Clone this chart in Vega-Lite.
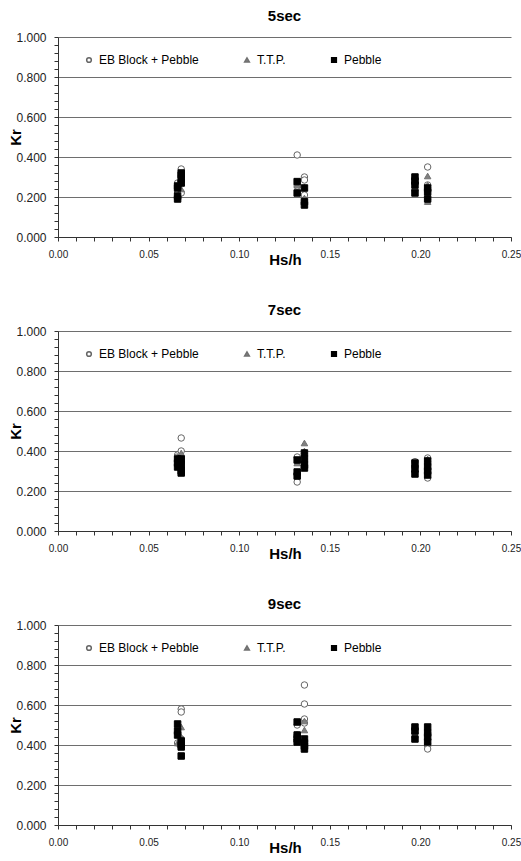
{
  "$schema": "https://vega.github.io/schema/vega-lite/v6.json",
  "background": "white",
  "padding": {"left": 8, "top": 9, "right": 8, "bottom": 5},
  "config": {
    "font": "Liberation Sans",
    "view": {"stroke": null},
    "title": {"fontSize": 15, "fontWeight": "bold", "color": "black", "anchor": "middle", "offset": 7},
    "axis": {"labelFont": "Liberation Sans", "titleFont": "Liberation Sans", "domainColor": "#333333", "tickColor": "#333333", "labelColor": "#222222", "titleColor": "black"},
    "legend": {"orient": "none", "legendX": 25, "legendY": 17, "direction": "horizontal", "columns": 3, "columnPadding": 42, "labelFontSize": 12, "labelColor": "black", "symbolSize": 22, "labelOffset": 4, "labelFont": "Liberation Sans"}
  },
  "datasets": {
    "kr": [
      {"p": "5sec", "s": "EB Block + Pebble", "x": 0.066, "kr": 0.27},
      {"p": "5sec", "s": "EB Block + Pebble", "x": 0.066, "kr": 0.22},
      {"p": "5sec", "s": "EB Block + Pebble", "x": 0.068, "kr": 0.34},
      {"p": "5sec", "s": "EB Block + Pebble", "x": 0.068, "kr": 0.22},
      {"p": "5sec", "s": "EB Block + Pebble", "x": 0.068, "kr": 0.28},
      {"p": "5sec", "s": "EB Block + Pebble", "x": 0.132, "kr": 0.41},
      {"p": "5sec", "s": "EB Block + Pebble", "x": 0.132, "kr": 0.255},
      {"p": "5sec", "s": "EB Block + Pebble", "x": 0.136, "kr": 0.30},
      {"p": "5sec", "s": "EB Block + Pebble", "x": 0.136, "kr": 0.285},
      {"p": "5sec", "s": "EB Block + Pebble", "x": 0.136, "kr": 0.21},
      {"p": "5sec", "s": "EB Block + Pebble", "x": 0.197, "kr": 0.235},
      {"p": "5sec", "s": "EB Block + Pebble", "x": 0.197, "kr": 0.27},
      {"p": "5sec", "s": "EB Block + Pebble", "x": 0.204, "kr": 0.35},
      {"p": "5sec", "s": "EB Block + Pebble", "x": 0.204, "kr": 0.26},
      {"p": "5sec", "s": "EB Block + Pebble", "x": 0.204, "kr": 0.23},
      {"p": "5sec", "s": "T.T.P.", "x": 0.066, "kr": 0.20},
      {"p": "5sec", "s": "T.T.P.", "x": 0.066, "kr": 0.25},
      {"p": "5sec", "s": "T.T.P.", "x": 0.068, "kr": 0.27},
      {"p": "5sec", "s": "T.T.P.", "x": 0.068, "kr": 0.24},
      {"p": "5sec", "s": "T.T.P.", "x": 0.132, "kr": 0.26},
      {"p": "5sec", "s": "T.T.P.", "x": 0.136, "kr": 0.195},
      {"p": "5sec", "s": "T.T.P.", "x": 0.136, "kr": 0.25},
      {"p": "5sec", "s": "T.T.P.", "x": 0.197, "kr": 0.25},
      {"p": "5sec", "s": "T.T.P.", "x": 0.204, "kr": 0.305},
      {"p": "5sec", "s": "T.T.P.", "x": 0.204, "kr": 0.26},
      {"p": "5sec", "s": "T.T.P.", "x": 0.204, "kr": 0.20},
      {"p": "5sec", "s": "T.T.P.", "x": 0.204, "kr": 0.177},
      {"p": "5sec", "s": "Pebble", "x": 0.066, "kr": 0.19},
      {"p": "5sec", "s": "Pebble", "x": 0.066, "kr": 0.205},
      {"p": "5sec", "s": "Pebble", "x": 0.066, "kr": 0.245},
      {"p": "5sec", "s": "Pebble", "x": 0.066, "kr": 0.255},
      {"p": "5sec", "s": "Pebble", "x": 0.068, "kr": 0.29},
      {"p": "5sec", "s": "Pebble", "x": 0.068, "kr": 0.31},
      {"p": "5sec", "s": "Pebble", "x": 0.068, "kr": 0.32},
      {"p": "5sec", "s": "Pebble", "x": 0.068, "kr": 0.27},
      {"p": "5sec", "s": "Pebble", "x": 0.132, "kr": 0.277},
      {"p": "5sec", "s": "Pebble", "x": 0.132, "kr": 0.22},
      {"p": "5sec", "s": "Pebble", "x": 0.136, "kr": 0.245},
      {"p": "5sec", "s": "Pebble", "x": 0.136, "kr": 0.177},
      {"p": "5sec", "s": "Pebble", "x": 0.136, "kr": 0.16},
      {"p": "5sec", "s": "Pebble", "x": 0.197, "kr": 0.30},
      {"p": "5sec", "s": "Pebble", "x": 0.197, "kr": 0.28},
      {"p": "5sec", "s": "Pebble", "x": 0.197, "kr": 0.26},
      {"p": "5sec", "s": "Pebble", "x": 0.197, "kr": 0.22},
      {"p": "5sec", "s": "Pebble", "x": 0.204, "kr": 0.245},
      {"p": "5sec", "s": "Pebble", "x": 0.204, "kr": 0.225},
      {"p": "5sec", "s": "Pebble", "x": 0.204, "kr": 0.19},

      {"p": "7sec", "s": "EB Block + Pebble", "x": 0.066, "kr": 0.38},
      {"p": "7sec", "s": "EB Block + Pebble", "x": 0.066, "kr": 0.37},
      {"p": "7sec", "s": "EB Block + Pebble", "x": 0.068, "kr": 0.465},
      {"p": "7sec", "s": "EB Block + Pebble", "x": 0.068, "kr": 0.40},
      {"p": "7sec", "s": "EB Block + Pebble", "x": 0.068, "kr": 0.36},
      {"p": "7sec", "s": "EB Block + Pebble", "x": 0.132, "kr": 0.245},
      {"p": "7sec", "s": "EB Block + Pebble", "x": 0.132, "kr": 0.37},
      {"p": "7sec", "s": "EB Block + Pebble", "x": 0.136, "kr": 0.36},
      {"p": "7sec", "s": "EB Block + Pebble", "x": 0.136, "kr": 0.34},
      {"p": "7sec", "s": "EB Block + Pebble", "x": 0.197, "kr": 0.347},
      {"p": "7sec", "s": "EB Block + Pebble", "x": 0.197, "kr": 0.32},
      {"p": "7sec", "s": "EB Block + Pebble", "x": 0.204, "kr": 0.365},
      {"p": "7sec", "s": "EB Block + Pebble", "x": 0.204, "kr": 0.265},
      {"p": "7sec", "s": "EB Block + Pebble", "x": 0.204, "kr": 0.33},
      {"p": "7sec", "s": "T.T.P.", "x": 0.066, "kr": 0.37},
      {"p": "7sec", "s": "T.T.P.", "x": 0.068, "kr": 0.39},
      {"p": "7sec", "s": "T.T.P.", "x": 0.068, "kr": 0.35},
      {"p": "7sec", "s": "T.T.P.", "x": 0.132, "kr": 0.34},
      {"p": "7sec", "s": "T.T.P.", "x": 0.136, "kr": 0.44},
      {"p": "7sec", "s": "T.T.P.", "x": 0.136, "kr": 0.40},
      {"p": "7sec", "s": "T.T.P.", "x": 0.197, "kr": 0.33},
      {"p": "7sec", "s": "T.T.P.", "x": 0.204, "kr": 0.36},
      {"p": "7sec", "s": "T.T.P.", "x": 0.204, "kr": 0.31},
      {"p": "7sec", "s": "Pebble", "x": 0.066, "kr": 0.36},
      {"p": "7sec", "s": "Pebble", "x": 0.066, "kr": 0.34},
      {"p": "7sec", "s": "Pebble", "x": 0.066, "kr": 0.32},
      {"p": "7sec", "s": "Pebble", "x": 0.068, "kr": 0.36},
      {"p": "7sec", "s": "Pebble", "x": 0.068, "kr": 0.33},
      {"p": "7sec", "s": "Pebble", "x": 0.068, "kr": 0.30},
      {"p": "7sec", "s": "Pebble", "x": 0.068, "kr": 0.29},
      {"p": "7sec", "s": "Pebble", "x": 0.132, "kr": 0.355},
      {"p": "7sec", "s": "Pebble", "x": 0.132, "kr": 0.295},
      {"p": "7sec", "s": "Pebble", "x": 0.132, "kr": 0.275},
      {"p": "7sec", "s": "Pebble", "x": 0.136, "kr": 0.39},
      {"p": "7sec", "s": "Pebble", "x": 0.136, "kr": 0.36},
      {"p": "7sec", "s": "Pebble", "x": 0.136, "kr": 0.33},
      {"p": "7sec", "s": "Pebble", "x": 0.136, "kr": 0.315},
      {"p": "7sec", "s": "Pebble", "x": 0.197, "kr": 0.34},
      {"p": "7sec", "s": "Pebble", "x": 0.197, "kr": 0.31},
      {"p": "7sec", "s": "Pebble", "x": 0.197, "kr": 0.285},
      {"p": "7sec", "s": "Pebble", "x": 0.204, "kr": 0.35},
      {"p": "7sec", "s": "Pebble", "x": 0.204, "kr": 0.32},
      {"p": "7sec", "s": "Pebble", "x": 0.204, "kr": 0.30},
      {"p": "7sec", "s": "Pebble", "x": 0.204, "kr": 0.28},

      {"p": "9sec", "s": "EB Block + Pebble", "x": 0.068, "kr": 0.58},
      {"p": "9sec", "s": "EB Block + Pebble", "x": 0.068, "kr": 0.565},
      {"p": "9sec", "s": "EB Block + Pebble", "x": 0.066, "kr": 0.41},
      {"p": "9sec", "s": "EB Block + Pebble", "x": 0.068, "kr": 0.43},
      {"p": "9sec", "s": "EB Block + Pebble", "x": 0.132, "kr": 0.50},
      {"p": "9sec", "s": "EB Block + Pebble", "x": 0.132, "kr": 0.45},
      {"p": "9sec", "s": "EB Block + Pebble", "x": 0.136, "kr": 0.70},
      {"p": "9sec", "s": "EB Block + Pebble", "x": 0.136, "kr": 0.605},
      {"p": "9sec", "s": "EB Block + Pebble", "x": 0.136, "kr": 0.53},
      {"p": "9sec", "s": "EB Block + Pebble", "x": 0.136, "kr": 0.51},
      {"p": "9sec", "s": "EB Block + Pebble", "x": 0.197, "kr": 0.46},
      {"p": "9sec", "s": "EB Block + Pebble", "x": 0.204, "kr": 0.46},
      {"p": "9sec", "s": "EB Block + Pebble", "x": 0.204, "kr": 0.395},
      {"p": "9sec", "s": "EB Block + Pebble", "x": 0.204, "kr": 0.38},
      {"p": "9sec", "s": "T.T.P.", "x": 0.066, "kr": 0.41},
      {"p": "9sec", "s": "T.T.P.", "x": 0.068, "kr": 0.49},
      {"p": "9sec", "s": "T.T.P.", "x": 0.068, "kr": 0.44},
      {"p": "9sec", "s": "T.T.P.", "x": 0.132, "kr": 0.44},
      {"p": "9sec", "s": "T.T.P.", "x": 0.136, "kr": 0.52},
      {"p": "9sec", "s": "T.T.P.", "x": 0.136, "kr": 0.475},
      {"p": "9sec", "s": "T.T.P.", "x": 0.197, "kr": 0.45},
      {"p": "9sec", "s": "T.T.P.", "x": 0.204, "kr": 0.42},
      {"p": "9sec", "s": "Pebble", "x": 0.066, "kr": 0.505},
      {"p": "9sec", "s": "Pebble", "x": 0.066, "kr": 0.47},
      {"p": "9sec", "s": "Pebble", "x": 0.066, "kr": 0.45},
      {"p": "9sec", "s": "Pebble", "x": 0.068, "kr": 0.42},
      {"p": "9sec", "s": "Pebble", "x": 0.068, "kr": 0.40},
      {"p": "9sec", "s": "Pebble", "x": 0.068, "kr": 0.39},
      {"p": "9sec", "s": "Pebble", "x": 0.068, "kr": 0.345},
      {"p": "9sec", "s": "Pebble", "x": 0.132, "kr": 0.515},
      {"p": "9sec", "s": "Pebble", "x": 0.132, "kr": 0.45},
      {"p": "9sec", "s": "Pebble", "x": 0.132, "kr": 0.43},
      {"p": "9sec", "s": "Pebble", "x": 0.132, "kr": 0.415},
      {"p": "9sec", "s": "Pebble", "x": 0.136, "kr": 0.43},
      {"p": "9sec", "s": "Pebble", "x": 0.136, "kr": 0.41},
      {"p": "9sec", "s": "Pebble", "x": 0.136, "kr": 0.395},
      {"p": "9sec", "s": "Pebble", "x": 0.136, "kr": 0.38},
      {"p": "9sec", "s": "Pebble", "x": 0.197, "kr": 0.49},
      {"p": "9sec", "s": "Pebble", "x": 0.197, "kr": 0.47},
      {"p": "9sec", "s": "Pebble", "x": 0.197, "kr": 0.43},
      {"p": "9sec", "s": "Pebble", "x": 0.204, "kr": 0.49},
      {"p": "9sec", "s": "Pebble", "x": 0.204, "kr": 0.46},
      {"p": "9sec", "s": "Pebble", "x": 0.204, "kr": 0.44},
      {"p": "9sec", "s": "Pebble", "x": 0.204, "kr": 0.415}
    ]
  },
  "spacing": 94,
  "bounds": "flush",
  "resolve": {"legend": {"shape": "independent", "fill": "independent", "stroke": "independent"}},
  "vconcat": [
    {
      "title": "5sec",
      "width": 453, "height": 200,
      "data": {"name": "kr"},
      "transform": [{"filter": "datum.p === '5sec'"}],
      "mark": {"type": "point", "filled": false, "size": 42, "strokeWidth": 1, "opacity": 1},
      "encoding": {
        "x": {"field": "x", "type": "quantitative", "scale": {"domain": [0, 0.25], "nice": false, "zero": false},
          "axis": {"title": "Hs/h", "values": [0,0.01,0.02,0.03,0.04,0.05,0.06,0.07,0.08,0.09,0.1,0.11,0.12,0.13,0.14,0.15,0.16,0.17,0.18,0.19,0.2,0.21,0.22,0.23,0.24,0.25],
            "labelExpr": "round(datum.value*100) % 5 == 0 ? format(datum.value, '.2f') : ''", "labelFontSize": 10, "labelPadding": 8, "tickSize": 4, "grid": false,
            "titleFontSize": 15, "titleFontWeight": "bold", "titleX": 227, "titleY": 22, "titleBaseline": "middle", "labelFlush": false}},
        "y": {"field": "kr", "type": "quantitative", "scale": {"domain": [0, 1], "nice": false},
          "axis": {"title": "Kr", "values": [0,0.04,0.08,0.12,0.16,0.2,0.24,0.28,0.32,0.36,0.4,0.44,0.48,0.52,0.56,0.6,0.64,0.68,0.72,0.76,0.8,0.84,0.88,0.92,0.96,1],
            "labelExpr": "round(datum.value*100) % 20 == 0 ? format(datum.value, '.3f') : ''", "labelFontSize": 12, "labelPadding": 8, "tickSize": 4,
            "grid": true, "gridColor": "#6e6e6e", "gridOpacity": {"condition": {"test": "round(datum.value*100) % 20 == 0", "value": 1}, "value": 0},
            "titleFontSize": 15, "titleFontWeight": "bold", "titleX": -43, "titleY": 100, "titleBaseline": "middle", "titleAngle": -90, "labelFlush": false}},
        "shape": {"field": "s", "type": "nominal", "scale": {"domain": ["EB Block + Pebble", "T.T.P.", "Pebble"], "range": ["circle", "triangle-up", "square"]}, "legend": {"title": null}},
        "fill": {"field": "s", "type": "nominal", "scale": {"domain": ["EB Block + Pebble", "T.T.P.", "Pebble"], "range": ["white", "#808080", "black"]}, "legend": {"title": null}},
        "stroke": {"field": "s", "type": "nominal", "scale": {"domain": ["EB Block + Pebble", "T.T.P.", "Pebble"], "range": ["#666666", "#707070", "black"]}, "legend": {"title": null}}
      }
    },
    {
      "title": "7sec",
      "width": 453, "height": 200,
      "data": {"name": "kr"},
      "transform": [{"filter": "datum.p === '7sec'"}],
      "mark": {"type": "point", "filled": false, "size": 42, "strokeWidth": 1, "opacity": 1},
      "encoding": {
        "x": {"field": "x", "type": "quantitative", "scale": {"domain": [0, 0.25], "nice": false, "zero": false},
          "axis": {"title": "Hs/h", "values": [0,0.01,0.02,0.03,0.04,0.05,0.06,0.07,0.08,0.09,0.1,0.11,0.12,0.13,0.14,0.15,0.16,0.17,0.18,0.19,0.2,0.21,0.22,0.23,0.24,0.25],
            "labelExpr": "round(datum.value*100) % 5 == 0 ? format(datum.value, '.2f') : ''", "labelFontSize": 10, "labelPadding": 8, "tickSize": 4, "grid": false,
            "titleFontSize": 15, "titleFontWeight": "bold", "titleX": 227, "titleY": 22, "titleBaseline": "middle", "labelFlush": false}},
        "y": {"field": "kr", "type": "quantitative", "scale": {"domain": [0, 1], "nice": false},
          "axis": {"title": "Kr", "values": [0,0.04,0.08,0.12,0.16,0.2,0.24,0.28,0.32,0.36,0.4,0.44,0.48,0.52,0.56,0.6,0.64,0.68,0.72,0.76,0.8,0.84,0.88,0.92,0.96,1],
            "labelExpr": "round(datum.value*100) % 20 == 0 ? format(datum.value, '.3f') : ''", "labelFontSize": 12, "labelPadding": 8, "tickSize": 4,
            "grid": true, "gridColor": "#6e6e6e", "gridOpacity": {"condition": {"test": "round(datum.value*100) % 20 == 0", "value": 1}, "value": 0},
            "titleFontSize": 15, "titleFontWeight": "bold", "titleX": -43, "titleY": 100, "titleBaseline": "middle", "titleAngle": -90, "labelFlush": false}},
        "shape": {"field": "s", "type": "nominal", "scale": {"domain": ["EB Block + Pebble", "T.T.P.", "Pebble"], "range": ["circle", "triangle-up", "square"]}, "legend": {"title": null}},
        "fill": {"field": "s", "type": "nominal", "scale": {"domain": ["EB Block + Pebble", "T.T.P.", "Pebble"], "range": ["white", "#808080", "black"]}, "legend": {"title": null}},
        "stroke": {"field": "s", "type": "nominal", "scale": {"domain": ["EB Block + Pebble", "T.T.P.", "Pebble"], "range": ["#666666", "#707070", "black"]}, "legend": {"title": null}}
      }
    },
    {
      "title": "9sec",
      "width": 453, "height": 200,
      "data": {"name": "kr"},
      "transform": [{"filter": "datum.p === '9sec'"}],
      "mark": {"type": "point", "filled": false, "size": 42, "strokeWidth": 1, "opacity": 1},
      "encoding": {
        "x": {"field": "x", "type": "quantitative", "scale": {"domain": [0, 0.25], "nice": false, "zero": false},
          "axis": {"title": "Hs/h", "values": [0,0.01,0.02,0.03,0.04,0.05,0.06,0.07,0.08,0.09,0.1,0.11,0.12,0.13,0.14,0.15,0.16,0.17,0.18,0.19,0.2,0.21,0.22,0.23,0.24,0.25],
            "labelExpr": "round(datum.value*100) % 5 == 0 ? format(datum.value, '.2f') : ''", "labelFontSize": 10, "labelPadding": 8, "tickSize": 4, "grid": false,
            "titleFontSize": 15, "titleFontWeight": "bold", "titleX": 227, "titleY": 22, "titleBaseline": "middle", "labelFlush": false}},
        "y": {"field": "kr", "type": "quantitative", "scale": {"domain": [0, 1], "nice": false},
          "axis": {"title": "Kr", "values": [0,0.04,0.08,0.12,0.16,0.2,0.24,0.28,0.32,0.36,0.4,0.44,0.48,0.52,0.56,0.6,0.64,0.68,0.72,0.76,0.8,0.84,0.88,0.92,0.96,1],
            "labelExpr": "round(datum.value*100) % 20 == 0 ? format(datum.value, '.3f') : ''", "labelFontSize": 12, "labelPadding": 8, "tickSize": 4,
            "grid": true, "gridColor": "#6e6e6e", "gridOpacity": {"condition": {"test": "round(datum.value*100) % 20 == 0", "value": 1}, "value": 0},
            "titleFontSize": 15, "titleFontWeight": "bold", "titleX": -43, "titleY": 100, "titleBaseline": "middle", "titleAngle": -90, "labelFlush": false}},
        "shape": {"field": "s", "type": "nominal", "scale": {"domain": ["EB Block + Pebble", "T.T.P.", "Pebble"], "range": ["circle", "triangle-up", "square"]}, "legend": {"title": null}},
        "fill": {"field": "s", "type": "nominal", "scale": {"domain": ["EB Block + Pebble", "T.T.P.", "Pebble"], "range": ["white", "#808080", "black"]}, "legend": {"title": null}},
        "stroke": {"field": "s", "type": "nominal", "scale": {"domain": ["EB Block + Pebble", "T.T.P.", "Pebble"], "range": ["#666666", "#707070", "black"]}, "legend": {"title": null}}
      }
    }
  ]
}
